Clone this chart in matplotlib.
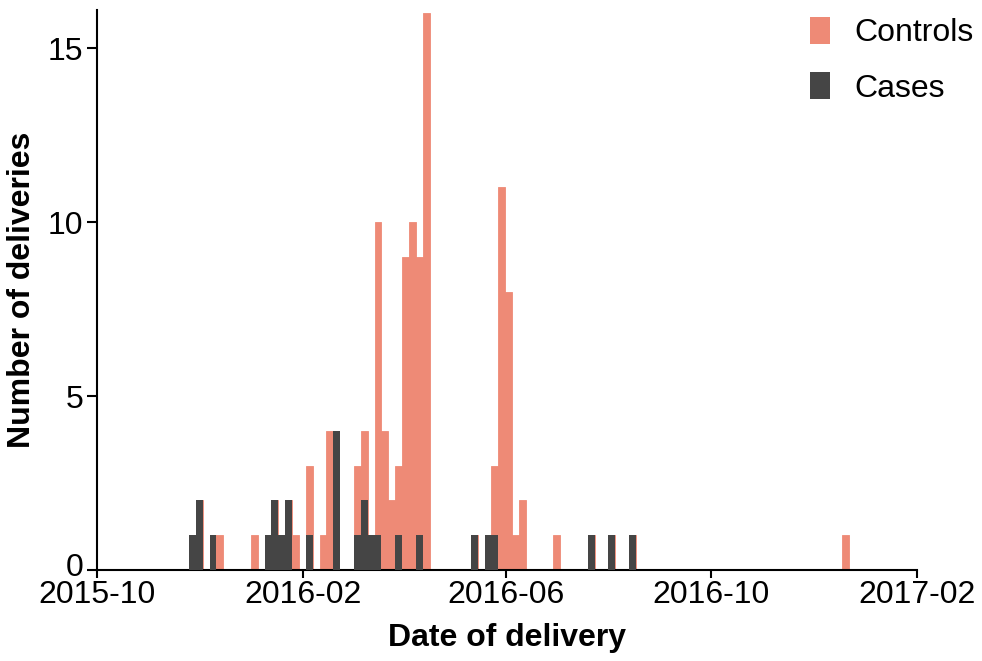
import matplotlib
matplotlib.use("Agg")
import matplotlib.pyplot as plt
import matplotlib.dates as mdates
import matplotlib.transforms as mtransforms
from matplotlib.patches import Patch
import numpy as np
import datetime as dt

plt.rcParams['font.family'] = ['Liberation Sans', 'DejaVu Sans']

# Histogram bins: first bin start and width (days)
bin_origin = dt.datetime(2015, 11, 24, 20)
bin_width_days = 4.1

# Controls: bin index -> count
control_bins = [0, 1, 3, 4, 9, 11, 12, 13, 14, 15, 17, 19, 20, 24, 25, 27, 28, 29, 30,
                31, 32, 33, 34, 41, 43, 44, 45, 46, 47, 48, 53, 58, 61, 64, 95]
control_counts = [1, 2, 1, 1, 1, 1, 2, 1, 2, 1, 3, 1, 4, 3, 4, 10, 4, 2, 3,
                  9, 10, 9, 16, 1, 1, 3, 11, 8, 1, 2, 1, 1, 1, 1, 1]

# Cases: bin index -> count
case_bins = [0, 1, 3, 11, 12, 13, 14, 17, 21, 24, 25, 26, 27, 30, 33, 41, 43, 44, 58, 61, 64]
case_counts = [1, 2, 1, 1, 2, 1, 2, 1, 4, 1, 2, 1, 1, 1, 1, 1, 1, 1, 1, 1, 1]

x_ticks = ["2015-10-01", "2016-02-01", "2016-06-01", "2016-10-01", "2017-02-01"]
y_ticks = [0, 5, 10, 15]

c_controls = "#EE8A76"
c_cases = "#454545"

origin = mdates.date2num(bin_origin)
ctrl_left = origin + np.array(control_bins) * bin_width_days
case_left = origin + np.array(case_bins) * bin_width_days

fig = plt.figure(figsize=(9.82, 6.61), dpi=100)
ax = fig.add_axes([0.0988, 0.1377, 0.835, 0.8473])

ax.bar(ctrl_left, control_counts, width=bin_width_days, align='edge',
       color=c_controls, edgecolor=c_controls, linewidth=0.6, zorder=2)
ax.bar(case_left, case_counts, width=bin_width_days, align='edge',
       color=c_cases, edgecolor='none', linewidth=0, zorder=3)

xt = [mdates.date2num(dt.datetime.strptime(s, "%Y-%m-%d")) for s in x_ticks]
ax.set_xlim(xt[0], xt[-1])
ax.set_ylim(0, 16.1)
ax.set_xticks(xt)
ax.set_xticklabels([s[:7] for s in x_ticks])
ax.set_yticks(y_ticks)

for s in ['top', 'right']:
    ax.spines[s].set_visible(False)
for s in ['left', 'bottom']:
    ax.spines[s].set_linewidth(1.5)
ax.tick_params(axis='both', labelsize=23, width=1.5, colors='black')
ax.tick_params(axis='y', length=7, pad=3)
ax.tick_params(axis='x', length=6, pad=1.5)

# nudge the "0" label up a little so it doesn't collide with "2015-10"
zero_lbl = ax.get_yticklabels()[0]
zero_lbl.set_transform(zero_lbl.get_transform() +
                       mtransforms.ScaledTranslation(0, 4 / 72, fig.dpi_scale_trans))

ax.set_xlabel("Date of delivery", fontsize=23, fontweight='bold', labelpad=9)
ax.set_ylabel("Number of deliveries", fontsize=23, fontweight='bold', labelpad=8)

handles = [Patch(facecolor=c_controls, edgecolor='none', label='Controls'),
           Patch(facecolor=c_cases, edgecolor='none', label='Cases')]
fig.legend(handles=handles, loc='upper right', bbox_to_anchor=(1.011, 1.003),
           frameon=False, fontsize=23, handlelength=0.65, handleheight=0.9,
           handletextpad=0.75, labelspacing=0.75, borderaxespad=0.2)

fig.savefig("out.png", dpi=100)
